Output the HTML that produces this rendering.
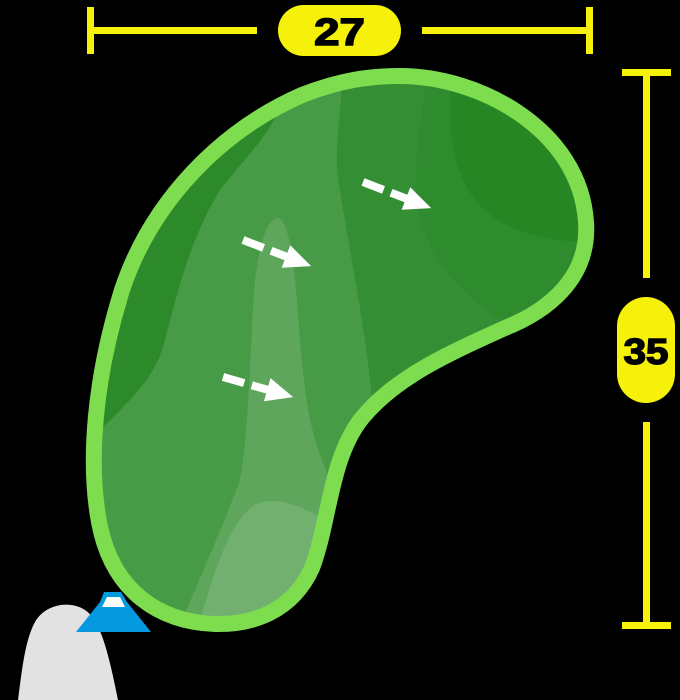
<!DOCTYPE html>
<html><head><meta charset="utf-8"><style>
html,body{margin:0;padding:0;background:#000;width:680px;height:700px;overflow:hidden}
svg{display:block}
</style></head><body>
<svg width="680" height="700" viewBox="0 0 680 700" xmlns="http://www.w3.org/2000/svg">
<defs>
<clipPath id="g">
<path id="gp" d="M 400 76 C 480 76, 580 130, 586 222 C 590 280, 545 312, 505 328 C 445 355, 395 378, 362 418 C 330 458, 330 520, 312 568 C 292 612, 252 625, 215 624 C 160 622, 112 592, 99 522 C 88 462, 94 380, 122 290 C 152 200, 222 130, 302 95 C 340 80, 370 76, 400 76 Z"/>
</clipPath>
</defs>
<g clip-path="url(#g)">
<rect x="0" y="0" width="680" height="700" fill="#348f34"/>
<path d="M 450 60 L 450 100 C 450 180, 470 235, 580 242 L 620 242 L 620 60 Z" fill="#22821f"/>
<path d="M 430 60 C 420 120, 410 180, 420 220 C 440 280, 480 310, 520 330 L 640 330 L 640 60 Z" fill="#2a8a28" opacity="0.5"/>
<path d="M 60 60 L 290 60 C 290 120, 250 150, 220 190 C 190 240, 180 280, 165 340 C 155 380, 130 400, 90 440 L 60 440 Z" fill="#2c8a2b"/>
<path d="M 290 60 L 340 60 C 345 100, 335 130, 337 170 C 345 230, 365 320, 372 400 L 372 700 L 60 700 L 60 440 L 90 440 C 130 400, 155 380, 165 340 C 180 280, 195 230, 220 190 C 250 150, 290 120, 290 60 Z" fill="#479a46"/>
<path d="M 278 218 C 290 220, 295 270, 300 340 C 305 400, 310 440, 335 490 L 350 700 L 150 700 C 180 620, 210 560, 240 480 C 250 420, 250 340, 255 280 C 260 240, 268 218, 278 218 Z" fill="#5da65b"/>
<path d="M 190 700 L 200 620 C 215 570, 230 520, 255 505 C 275 495, 300 505, 325 520 L 360 700 Z" fill="#72b070"/>
</g>
<use href="#gp" fill="none" stroke="#7edd4f" stroke-width="16"/>
<g fill="#fff" stroke="none">
<g transform="translate(243,240) rotate(21)">
<rect x="0" y="-4" width="22" height="8"/><rect x="30" y="-4" width="20" height="8"/><polygon points="46,-12 73,0 46,12"/>
</g>
<g transform="translate(363,182) rotate(21)">
<rect x="0" y="-4" width="22" height="8"/><rect x="30" y="-4" width="20" height="8"/><polygon points="46,-12 73,0 46,12"/>
</g>
<g transform="translate(223,377) rotate(16)">
<rect x="0" y="-4" width="22" height="8"/><rect x="30" y="-4" width="20" height="8"/><polygon points="46,-12 73,0 46,12"/>
</g>
</g>
<g fill="#f5f10a">
<rect x="87" y="7" width="7" height="47"/>
<rect x="586" y="7" width="7" height="47"/>
<rect x="90" y="27" width="167" height="7"/>
<rect x="422" y="27" width="168" height="7"/>
<rect x="278" y="5" width="123" height="51" rx="25.5"/>
<rect x="622" y="69" width="49" height="7"/>
<rect x="622" y="622" width="49" height="7"/>
<rect x="643" y="72" width="7" height="206"/>
<rect x="643" y="422" width="7" height="204"/>
<rect x="617" y="297" width="58" height="106" rx="29"/>
</g>
<g transform="translate(339.5,45) scale(1.2,1)"><text x="0" y="0" text-anchor="middle" font-family="Liberation Sans, sans-serif" font-weight="bold" font-size="38" fill="#000" stroke="#000" stroke-width="1.5">27</text></g>
<g transform="translate(646,364) scale(1.12,1)"><text x="0" y="0" text-anchor="middle" font-family="Liberation Sans, sans-serif" font-weight="bold" font-size="36" fill="#000" stroke="#000" stroke-width="1.5">35</text></g>
<path d="M 18 700 C 22 670, 25 640, 35 622 C 45 604, 70 600, 85 610 C 100 620, 108 650, 118 700 Z" fill="#e2e2e2"/>
<polygon points="76,632 100,602 104,592 121,592 127,602 151,632" fill="#0599e0"/>
<polygon points="102,607 107,597 120,597 125,607" fill="#fff"/>
</svg>
</body></html>
